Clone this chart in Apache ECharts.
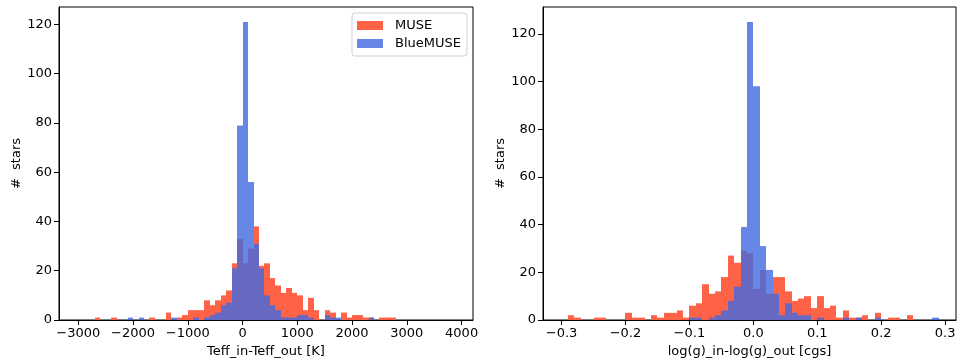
<!DOCTYPE html>
<html>
<head>
<meta charset="utf-8">
<script src="https://cdn.jsdelivr.net/npm/echarts@6/dist/echarts.min.js"></script>
<style>
  html, body { margin: 0; padding: 0; background: #fff; }
  #chart { width: 957px; height: 360px; }
</style>
</head>
<body>
<div id="chart"></div>
<script>
// Teff residual histogram: bins of 100 K starting at -2800 K
const teffBinStart = -2800;
const teffBinWidth = 100;
const teffMuse = [
  0, 1, 0, 0, 1, 0, 0, 0, 0, 0,      // -2800 .. -1900
  0, 1, 0, 0, 3, 0, 1, 2, 4, 4,      // -1800 .. -900
  4, 8, 6, 8, 10, 12, 23, 33,        // -800 .. -100
  23, 29, 38, 22, 23, 17, 14, 11, 13, 11, // 0 .. 900
  10, 4, 9, 4, 0, 4, 3, 0, 3, 1,     // 1000 .. 1900
  2, 2, 1, 1, 0, 1, 1, 1             // 2000 .. 2700
];
const teffBlueMuse = [
  0, 0, 0, 0, 0, 0, 0, 1, 0, 1,
  0, 0, 0, 0, 0, 1, 0, 0, 0, 1,
  0, 1, 2, 3, 6, 7, 21, 79,
  121, 56, 31, 21, 10, 6, 4, 1, 1, 1,
  2, 2, 1, 0, 0, 2, 1, 1, 0, 0,
  0, 0, 0, 1, 0, 0, 0, 0
];

// log(g) residual histogram: bins of 0.01 dex starting at -0.30
const loggBinStart = -0.30;
const loggBinWidth = 0.01;
const loggMuse = [
  0, 2, 1, 0, 0, 1, 1, 0, 0, 0,      // -0.30 .. -0.21
  3, 1, 1, 0, 2, 1, 3, 3, 4, 1,      // -0.20 .. -0.11
  6, 7, 15, 11, 12, 18, 27, 24, 29, 28, // -0.10 .. -0.01
  13, 21, 11, 18, 18, 12, 8, 9, 10, 5,  // 0.00 .. 0.09
  10, 5, 6, 1, 4, 1, 1, 2, 0, 3,     // 0.10 .. 0.19
  0, 1, 1, 0, 2, 0, 0, 0, 0, 0       // 0.20 .. 0.29
];
const loggBlueMuse = [
  0, 0, 0, 0, 0, 0, 0, 0, 0, 0,
  0, 0, 0, 0, 0, 0, 0, 0, 0, 0,
  1, 1, 0, 1, 2, 4, 8, 14, 39, 125,
  98, 31, 21, 11, 2, 7, 3, 2, 2, 0,
  1, 0, 0, 0, 1, 0, 1, 0, 0, 1,
  0, 0, 0, 0, 0, 0, 0, 0, 1, 0
];

const teffTicks = [-3000, -2000, -1000, 0, 1000, 2000, 3000, 4000];
const loggTicks = [-0.3, -0.2, -0.1, 0.0, 0.1, 0.2, 0.3];
const countTicks = [0, 20, 40, 60, 80, 100, 120];

const FONT = 'DejaVu Sans';
const MUSE_COLOR = '#FF6347';
const BLUE_COLOR = 'rgba(65,105,225,0.8)';

// [left edge, right edge, count] for each bin
function toBins(start, width, counts) {
  return counts.map((c, i) => {
    const lo = +(start + i * width).toFixed(6);
    const hi = +(start + (i + 1) * width).toFixed(6);
    return [lo, hi, c];
  });
}

// one histogram bar; edges snapped to whole pixels so neighbours touch
function renderBin(params, api) {
  const h = api.value(2);
  if (!h) return null;
  const p0 = api.coord([api.value(0), 0]);
  const p1 = api.coord([api.value(1), h]);
  const x0 = Math.round(p0[0]);
  const x1 = Math.round(p1[0]);
  return {
    type: 'rect',
    shape: { x: x0, y: p1[1], width: x1 - x0, height: p0[1] - p1[1] },
    style: api.style()
  };
}

function minusFmt(v, digits) {
  const s = digits ? Math.abs(v).toFixed(digits) : String(Math.abs(Math.round(v)));
  return (v < -1e-9 ? '\u2212' : '') + s;
}

const labelStyle = { color: '#000', fontFamily: FONT, fontSize: 13 };
const lineStyle = { color: '#000', width: 1 };

function xAxis(gridIndex, min, max, ticks, digits, name) {
  return {
    type: 'value', gridIndex, min, max,
    name, nameLocation: 'middle', nameGap: 25,
    nameTextStyle: { color: '#000', fontFamily: FONT, fontSize: 13 },
    axisLine: { show: true, lineStyle, onZero: false },
    axisTick: { show: true, length: 5, lineStyle, customValues: ticks },
    axisLabel: Object.assign({ margin: 7, customValues: ticks,
      formatter: v => minusFmt(v, digits) }, labelStyle),
    splitLine: { show: false }
  };
}

function yAxis(gridIndex, max) {
  return {
    type: 'value', gridIndex, min: 0, max,
    name: '#  stars', nameLocation: 'middle', nameGap: 36,
    nameTextStyle: { color: '#000', fontFamily: FONT, fontSize: 13 },
    axisLine: { show: true, lineStyle, onZero: false },
    axisTick: { show: true, length: 5, lineStyle, customValues: countTicks },
    axisLabel: Object.assign({ margin: 7, customValues: countTicks }, labelStyle),
    splitLine: { show: false }
  };
}

const gridBase = {
  top: 7, height: 313, show: true,
  borderColor: '#000', borderWidth: 1, backgroundColor: 'transparent',
  containLabel: false, outerBoundsMode: 'none'
};

const chart = echarts.init(document.getElementById('chart'), null, { renderer: 'canvas' });

chart.setOption({
  animation: false,
  backgroundColor: '#fff',
  textStyle: { fontFamily: FONT },
  grid: [
    Object.assign({ left: 59, width: 414 }, gridBase),
    Object.assign({ left: 543, width: 413 }, gridBase)
  ],
  legend: {
    orient: 'vertical',
    left: 352, top: 13,
    padding: [6, 6, 6, 5],
    itemWidth: 26, itemHeight: 9, itemGap: 5,
    borderColor: '#d0d0d0', borderWidth: 1, borderRadius: 3,
    backgroundColor: 'rgba(255,255,255,0.8)',
    textStyle: { color: '#000', fontFamily: FONT, fontSize: 13, padding: [0, 0, 0, 7] },
    data: [
      { name: 'MUSE', icon: 'rect', itemStyle: { color: MUSE_COLOR } },
      { name: 'BlueMUSE', icon: 'rect', itemStyle: { color: BLUE_COLOR } }
    ]
  },
  xAxis: [
    xAxis(0, -3352, 4208, teffTicks, 0, 'Teff_in-Teff_out [K]'),
    xAxis(1, -0.329, 0.317, loggTicks, 1, 'log(g)_in-log(g)_out [cgs]')
  ],
  yAxis: [yAxis(0, 127.05), yAxis(1, 131.25)],
  series: [
    { name: 'MUSE', type: 'custom', xAxisIndex: 0, yAxisIndex: 0, clip: true,
      renderItem: renderBin, itemStyle: { color: MUSE_COLOR },
      encode: { x: [0, 1], y: 2 }, data: toBins(teffBinStart, teffBinWidth, teffMuse) },
    { name: 'BlueMUSE', type: 'custom', xAxisIndex: 0, yAxisIndex: 0, clip: true,
      renderItem: renderBin, itemStyle: { color: BLUE_COLOR },
      encode: { x: [0, 1], y: 2 }, data: toBins(teffBinStart, teffBinWidth, teffBlueMuse) },
    { name: 'MUSE', type: 'custom', xAxisIndex: 1, yAxisIndex: 1, clip: true,
      renderItem: renderBin, itemStyle: { color: MUSE_COLOR },
      encode: { x: [0, 1], y: 2 }, data: toBins(loggBinStart, loggBinWidth, loggMuse) },
    { name: 'BlueMUSE', type: 'custom', xAxisIndex: 1, yAxisIndex: 1, clip: true,
      renderItem: renderBin, itemStyle: { color: BLUE_COLOR },
      encode: { x: [0, 1], y: 2 }, data: toBins(loggBinStart, loggBinWidth, loggBlueMuse) }
  ]
});
</script>
</body>
</html>
